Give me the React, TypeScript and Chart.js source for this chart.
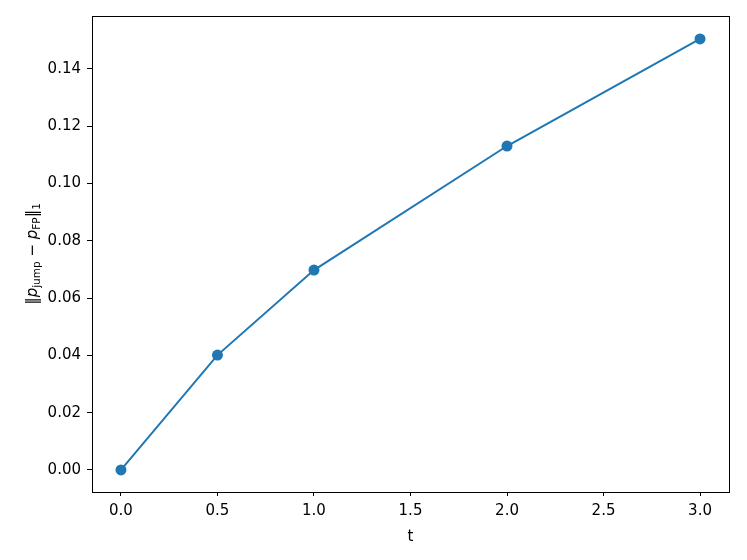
import React, { useEffect, useRef } from "react";
import { Chart, registerables } from "chart.js";

Chart.register(...registerables);

const tValues = [0, 0.5, 1.0, 2.0, 3.0];
const normValues = [0.0, 0.0401, 0.0698, 0.1131, 0.1505];
const xTicks = [0, 0.5, 1.0, 1.5, 2.0, 2.5, 3.0];
const yTicks = [0, 0.02, 0.04, 0.06, 0.08, 0.1, 0.12, 0.14];

const FONT = "'DejaVu Sans', sans-serif";

const framePlugin = {
  id: "frameAndLabel",
  afterDraw(chart: any) {
    const { ctx, chartArea } = chart;
    ctx.save();
    ctx.strokeStyle = "#000";
    ctx.lineWidth = 1;
    ctx.strokeRect(
      Math.round(chartArea.left) + 0.5,
      Math.round(chartArea.top) + 0.5,
      Math.round(chartArea.right - chartArea.left),
      Math.round(chartArea.bottom - chartArea.top)
    );
    const cx = 32;
    const cy = (chartArea.top + chartArea.bottom) / 2;
    ctx.translate(cx, cy);
    ctx.rotate(-Math.PI / 2);
    ctx.fillStyle = "#000";
    ctx.textBaseline = "alphabetic";
    const big = `15px ${FONT}`;
    const ital = `italic 15px ${FONT}`;
    const small = `10.5px ${FONT}`;
    const parts: [string, string, number][] = [
      ["‖", big, 0],
      ["p", ital, 0],
      ["jump", small, 3],
      [" − ", big, 0],
      ["p", ital, 0],
      ["FP", small, 3],
      ["‖", big, 0],
      ["1", small, 3],
    ];
    let total = 0;
    for (const [s, f] of parts) {
      ctx.font = f;
      total += ctx.measureText(s).width;
    }
    let x = -total / 2;
    const baseY = 5;
    for (const [s, f, dy] of parts) {
      ctx.font = f;
      ctx.fillText(s, x, baseY + dy);
      x += ctx.measureText(s).width;
    }
    ctx.restore();
  },
};

export default function App() {
  const ref = useRef<HTMLCanvasElement | null>(null);
  useEffect(() => {
    if (!ref.current) return;
    const chart = new Chart(ref.current, {
      type: "line",
      data: {
        datasets: [
          {
            data: tValues.map((t, i) => ({ x: t, y: normValues[i] })),
            borderColor: "#1f77b4",
            backgroundColor: "#1f77b4",
            borderWidth: 2,
            pointRadius: 5.5,
            pointBorderWidth: 0,
            pointBackgroundColor: "#1f77b4",
            tension: 0,
          },
        ],
      },
      options: {
        animation: false,
        responsive: false,
        events: [],
        layout: { padding: { left: 0, right: 18, top: 16, bottom: 14 } },
        plugins: { legend: { display: false }, tooltip: { enabled: false } },
        scales: {
          x: {
            type: "linear",
            min: -0.15,
            max: 3.15,
            afterBuildTicks: (s: any) => {
              s.ticks = xTicks.map((v) => ({ value: v }));
            },
            afterFit: (s: any) => {
              s.height = 54;
            },
            ticks: {
              callback: (v: any) => Number(v).toFixed(1),
              color: "#000",
              font: { family: FONT, size: 15 },
              padding: 6,
              maxRotation: 0,
            },
            grid: {
              drawOnChartArea: false,
              drawTicks: true,
              tickLength: 4,
              color: "#000",
            },
            border: { display: false },
            title: {
              display: true,
              text: "t",
              color: "#000",
              font: { family: FONT, size: 15 },
              padding: { top: 2, bottom: 0 },
            },
          },
          y: {
            type: "linear",
            min: -0.0077,
            max: 0.1585,
            afterBuildTicks: (s: any) => {
              s.ticks = yTicks.map((v) => ({ value: v }));
            },
            afterFit: (s: any) => {
              s.width = 92;
            },
            ticks: {
              callback: (v: any) => Number(v).toFixed(2),
              color: "#000",
              font: { family: FONT, size: 15 },
              padding: 6,
            },
            grid: {
              drawOnChartArea: false,
              drawTicks: true,
              tickLength: 5,
              color: "#000",
            },
            border: { display: false },
          },
        },
      },
      plugins: [framePlugin],
    });
    return () => chart.destroy();
  }, []);
  return (
    <div style={{ position: "fixed", left: 0, top: 0, width: 747, height: 560, background: "#fff" }}>
      <canvas ref={ref} width={747} height={560} style={{ width: 747, height: 560 }} />
    </div>
  );
}
